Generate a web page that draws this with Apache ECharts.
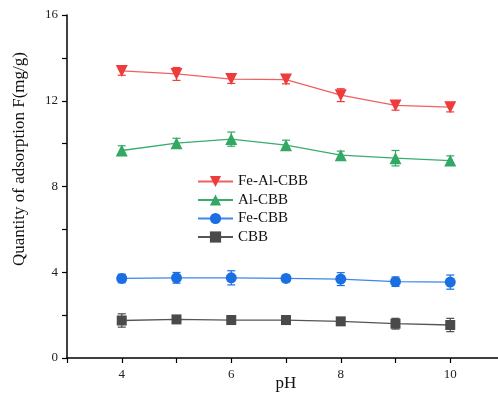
<!DOCTYPE html>
<html>
<head>
<meta charset="utf-8">
<style>html,body{margin:0;padding:0;background:#fff;}#c{width:498px;height:394px;}</style>
<script src="https://cdn.jsdelivr.net/npm/echarts@6/dist/echarts.min.js"></script>
</head>
<body>
<div id="c"></div>
<script>
const pH = [4, 5, 6, 7, 8, 9, 10];
const feAlCbb = [13.39, 13.25, 13.01, 12.99, 12.26, 11.78, 11.70];
const feAlCbbErr = [0.2, 0.3, 0.2, 0.2, 0.3, 0.22, 0.22];
const alCbb = [9.68, 10.02, 10.21, 9.93, 9.46, 9.32, 9.21];
const alCbbErr = [0.22, 0.23, 0.33, 0.23, 0.19, 0.36, 0.22];
const feCbb = [3.71, 3.74, 3.74, 3.71, 3.68, 3.56, 3.54];
const feCbbErr = [0.2, 0.25, 0.33, 0.15, 0.3, 0.22, 0.33];
const cbb = [1.75, 1.80, 1.77, 1.77, 1.71, 1.60, 1.54];
const cbbErr = [0.31, 0.15, 0.2, 0.2, 0.17, 0.25, 0.31];
const seriesNames = ['Fe-Al-CBB', 'Al-CBB', 'Fe-CBB', 'CBB'];
const yTitle = 'Quantity of adsorption F(mg/g)';
const xTitle = 'pH';

const FONT = '"Liberation Serif", "Times New Roman", serif';
const defs = [
  {name: seriesNames[0], y: feAlCbb, e: feAlCbbErr, mc: '#ee3b3b', lc: '#f06060', sym: 'triangle', rot: 180, size: 12},
  {name: seriesNames[1], y: alCbb, e: alCbbErr, mc: '#33a865', lc: '#3aac6c', sym: 'triangle', rot: 0, size: 12},
  {name: seriesNames[2], y: feCbb, e: feCbbErr, mc: '#1a6fe3', lc: '#3d86ea', sym: 'circle', rot: 0, size: 11},
  {name: seriesNames[3], y: cbb, e: cbbErr, mc: '#4a4a4a', lc: '#555555', sym: 'rect', rot: 0, size: 10}
];

const series = [];
defs.forEach(d => {
  series.push({
    type: 'line', name: d.name,
    data: pH.map((x, i) => [x, d.y[i]]),
    symbol: d.sym, symbolRotate: d.rot, symbolSize: d.size,
    lineStyle: {color: d.lc, width: 1.3},
    itemStyle: {color: d.mc},
    z: 3
  });
  series.push({
    type: 'custom', name: d.name + '-err',
    data: pH.map((x, i) => [x, d.y[i] - d.e[i], d.y[i] + d.e[i]]),
    renderItem: function (params, api) {
      const lo = api.coord([api.value(0), api.value(1)]);
      const hi = api.coord([api.value(0), api.value(2)]);
      const w = 4;
      const st = {stroke: d.mc, lineWidth: 1.2};
      return {type: 'group', children: [
        {type: 'line', shape: {x1: lo[0], y1: lo[1], x2: hi[0], y2: hi[1]}, style: st},
        {type: 'line', shape: {x1: lo[0] - w, y1: lo[1], x2: lo[0] + w, y2: lo[1]}, style: st},
        {type: 'line', shape: {x1: hi[0] - w, y1: hi[1], x2: hi[0] + w, y2: hi[1]}, style: st}
      ]};
    },
    encode: {x: 0, y: [1, 2]},
    z: 2, silent: true
  });
});

const chart = echarts.init(document.getElementById('c'), null, {renderer: 'canvas'});
chart.setOption({
  backgroundColor: '#fff',
  animation: false,
  textStyle: {fontFamily: FONT},
  grid: {left: 67, top: 15, bottom: 36, right: -7, containLabel: false, outerBoundsMode: 'none'},
  legend: {
    data: seriesNames,
    orient: 'vertical', left: 197, top: 174, padding: 0,
    itemWidth: 35, itemHeight: 14, itemGap: 3.5,
    textStyle: {fontFamily: FONT, fontSize: 15, color: '#111'}
  },
  xAxis: {
    type: 'value', min: 3, max: 11, interval: 1,
    axisLine: {lineStyle: {color: '#000', width: 1.5}},
    axisTick: {show: true, inside: false, length: 5, lineStyle: {color: '#000', width: 1.2}},
    axisLabel: {fontFamily: FONT, fontSize: 13, color: '#222', margin: 10,
      formatter: v => (v >= 4 && v <= 10 && v % 2 === 0) ? String(v) : ''},
    splitLine: {show: false}
  },
  yAxis: {
    type: 'value', min: 0, max: 16, interval: 2,
    axisLine: {show: true, lineStyle: {color: '#000', width: 1.5}},
    axisTick: {show: true, inside: false, length: 5, lineStyle: {color: '#000', width: 1.2}},
    axisLabel: {fontFamily: FONT, fontSize: 13, color: '#222', margin: 9,
      formatter: v => (v % 4 === 0) ? String(v) : ''},
    splitLine: {show: false}
  },
  graphic: [{
    type: 'text', x: 20, y: 159, rotation: Math.PI / 2,
    style: {text: yTitle, fontFamily: FONT, fontSize: 17, fill: '#111', align: 'center', verticalAlign: 'middle'}
  }, {
    type: 'text', x: 286, y: 384,
    style: {text: xTitle, fontFamily: FONT, fontSize: 17, fill: '#111', align: 'center', verticalAlign: 'middle'}
  }],
  series: series
});
</script>
</body>
</html>
